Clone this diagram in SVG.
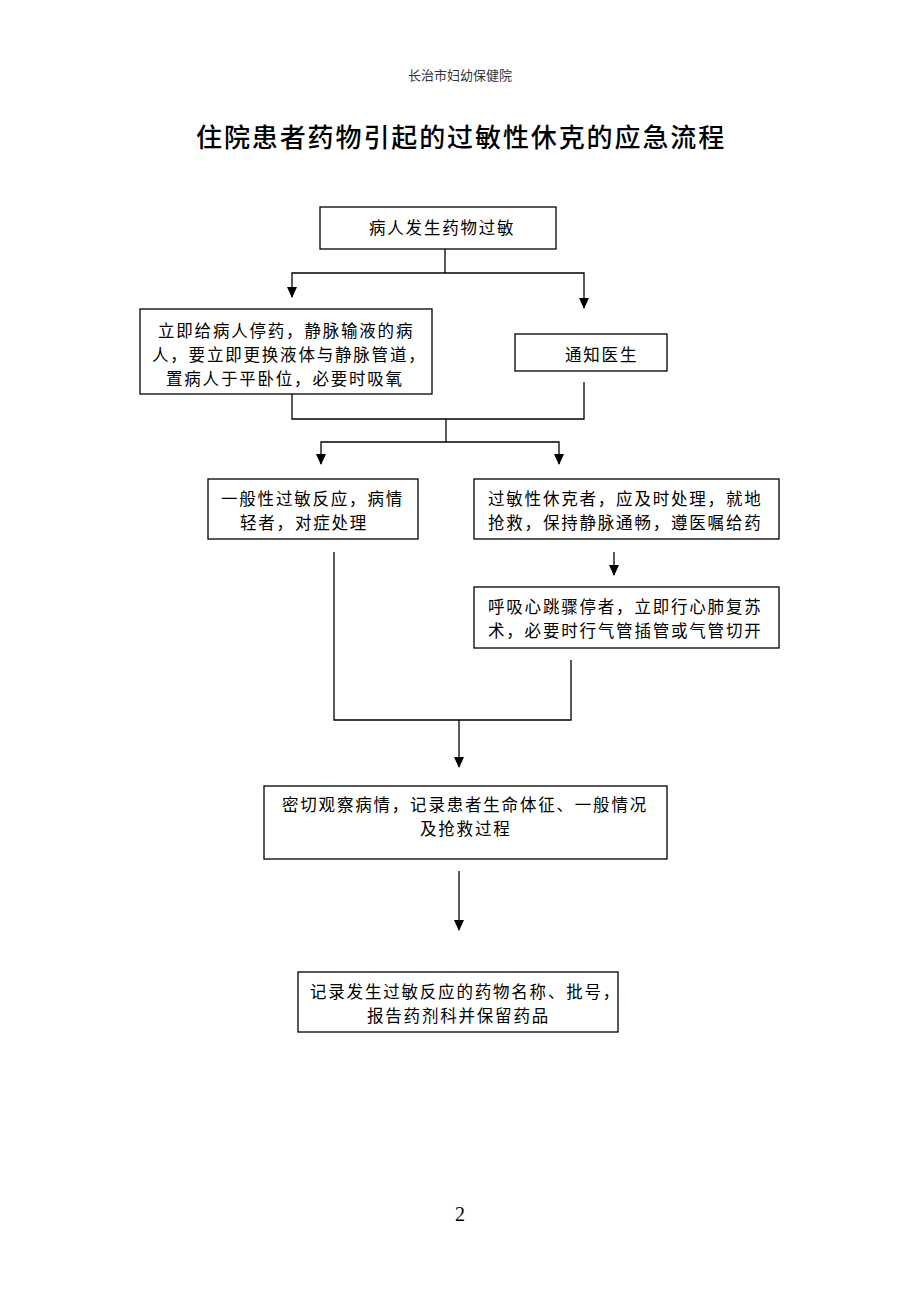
<svg xmlns="http://www.w3.org/2000/svg" width="920" height="1302" viewBox="0 0 920 1302">
<style>
.box{fill:#fff;stroke:#000;stroke-width:1.3}
.t{font-family:"Noto Sans CJK SC",sans-serif;font-size:16.5px;letter-spacing:1.8px;fill:#000}
.c{fill:none;stroke:#000;stroke-width:1.3}
</style>
<rect width="920" height="1302" fill="#fff"/>
<text x="460" y="80" text-anchor="middle" style="font-family:'Noto Sans CJK SC',sans-serif;font-size:13px;fill:#333">长治市妇幼保健院</text>
<text x="196" y="147" style="font-family:'Noto Sans CJK SC',sans-serif;font-size:26px;font-weight:500;letter-spacing:1.9px;fill:#000">住院患者药物引起的过敏性休克的应急流程</text>

<g id="connectors">
<polyline class="c" points="445,249 445,273"/>
<polyline class="c" points="292,297 292,273 584,273 584,308"/>
<polyline class="c" points="292,394 292,419 584,419 584,382"/>
<polyline class="c" points="446,419 446,442"/>
<polyline class="c" points="321,464 321,442 559,442 559,464"/>
<polyline class="c" points="614,552 614,575"/>
<polyline class="c" points="334,552 334,720 571,720 571,660"/>
<polyline class="c" points="459,720 459,767"/>
<polyline class="c" points="459,871 459,930"/>
<path d="M287,287 L297,287 L292,298 Z"/>
<path d="M579,298 L589,298 L584,309 Z"/>
<path d="M316,454 L326,454 L321,465 Z"/>
<path d="M554,454 L564,454 L559,465 Z"/>
<path d="M609,565 L619,565 L614,576 Z"/>
<path d="M454,757 L464,757 L459,768 Z"/>
<path d="M454,920 L464,920 L459,931 Z"/>
</g>

<g id="n1">
<rect class="box" x="320" y="207" width="236" height="42"/>
<text class="t" x="369" y="234">病人发生药物过敏</text>
</g>
<g id="n2">
<rect class="box" x="140" y="309" width="292" height="85"/>
<text class="t" x="158" y="337">立即给病人停药，静脉输液的病</text>
<text class="t" x="152" y="361">人，要立即更换液体与静脉管道，</text>
<text class="t" x="166" y="385">置病人于平卧位，必要时吸氧</text>
</g>
<g id="n3">
<rect class="box" x="515" y="334" width="152" height="37"/>
<text class="t" x="565" y="361">通知医生</text>
</g>
<g id="n4">
<rect class="box" x="208" y="479" width="210" height="60"/>
<text class="t" x="221" y="505">一般性过敏反应，病情</text>
<text class="t" x="240" y="529">轻者，对症处理</text>
</g>
<g id="n5">
<rect class="box" x="474" y="479" width="305" height="60"/>
<text class="t" x="488" y="505">过敏性休克者，应及时处理，就地</text>
<text class="t" x="488" y="529">抢救，保持静脉通畅，遵医嘱给药</text>
</g>
<g id="n6">
<rect class="box" x="474" y="587" width="305" height="61"/>
<text class="t" x="488" y="613">呼吸心跳骤停者，立即行心肺复苏</text>
<text class="t" x="488" y="637">术，必要时行气管插管或气管切开</text>
</g>
<g id="n7">
<rect class="box" x="264" y="786" width="403" height="73"/>
<text class="t" x="282" y="811">密切观察病情，记录患者生命体征、一般情况</text>
<text class="t" x="420" y="835">及抢救过程</text>
</g>
<g id="n8">
<rect class="box" x="298" y="972" width="320" height="60"/>
<text class="t" x="310" y="998">记录发生过敏反应的药物名称、批号，</text>
<text class="t" x="367" y="1022">报告药剂科并保留药品</text>
</g>
<text x="460" y="1221" text-anchor="middle" style="font-family:'Liberation Serif',serif;font-size:20px;fill:#000">2</text>
</svg>
